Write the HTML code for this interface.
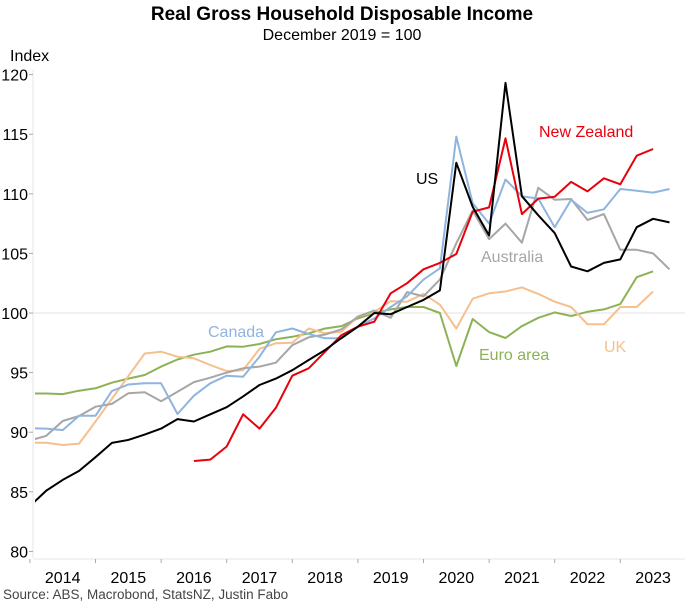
<!DOCTYPE html>
<html><head><meta charset="utf-8"><style>
body{margin:0;background:#fff;}
svg{display:block;font-family:"Liberation Sans",Arial,sans-serif;}
</style></head><body>
<svg id="chart" width="685" height="603" viewBox="0 0 685 603">
<text x="342" y="20" text-anchor="middle" font-size="19" font-weight="bold">Real Gross Household Disposable Income</text>
<text x="342" y="40" text-anchor="middle" font-size="16">December 2019 = 100</text>
<text x="10" y="61" font-size="16">Index</text>
<g id="axes"></g>
<g id="series"></g>
<text x="539" y="137" font-size="16" fill="#e8000b">New Zealand</text>
<text x="416" y="184" font-size="16" fill="#000">US</text>
<text x="481" y="262" font-size="16" fill="#a6a6a6">Australia</text>
<text x="208" y="337" font-size="16" fill="#8fb4e0">Canada</text>
<text x="479" y="360" font-size="16" fill="#8db255">Euro area</text>
<text x="604" y="352" font-size="16" fill="#f5c08e">UK</text>
<text x="3" y="599" font-size="13.5" fill="#444">Source: ABS, Macrobond, StatsNZ, Justin Fabo</text>
</svg>
<script>
// quarters 2013Q4 .. 2023Q3
const yearLabels = ["2014","2015","2016","2017","2018","2019","2020","2021","2022","2023"];
const yTicks = [80,85,90,95,100,105,110,115,120];
const us = [83.8,85.1,86.0,86.75,87.9,89.1,89.35,89.8,90.3,91.1,90.9,91.5,92.1,93.0,93.96,94.5,95.2,96.06,96.9,97.9,98.85,100.0,99.9,100.5,101.1,101.9,112.6,108.9,106.5,119.3,109.8,108.2,106.7,103.9,103.5,104.2,104.5,107.2,107.9,107.6];
const euro = [93.25,93.25,93.2,93.48,93.68,94.15,94.5,94.8,95.5,96.1,96.5,96.75,97.2,97.17,97.4,97.8,98.0,98.3,98.7,98.9,99.55,100.0,100.3,100.5,100.5,100.0,95.55,99.5,98.4,97.9,98.9,99.6,100.05,99.75,100.1,100.3,100.75,103.0,103.5,null];
const uk = [89.12,89.12,88.93,89.04,90.9,92.8,94.7,96.6,96.75,96.33,96.2,95.64,95.13,95.2,97.0,97.46,97.5,98.7,98.3,98.43,99.7,100.1,101.0,100.95,101.6,100.7,98.7,101.2,101.65,101.8,102.15,101.6,100.95,100.5,99.05,99.05,100.5,100.5,101.8,null];
const canada = [90.33,90.3,90.18,91.38,91.38,93.46,94.0,94.1,94.1,91.53,93.06,94.1,94.74,94.66,96.33,98.38,98.7,98.24,97.88,97.88,98.85,99.55,100.5,101.4,102.8,103.75,114.8,109.2,107.5,111.2,109.8,109.6,107.2,109.5,108.4,108.7,110.4,110.26,110.1,110.4];
const australia = [89.3,89.7,90.94,91.36,92.14,92.37,93.26,93.35,92.6,93.4,94.2,94.57,95.0,95.36,95.5,95.83,97.3,97.96,98.2,98.63,99.7,100.2,99.6,101.75,101.4,102.8,105.85,108.6,106.2,107.5,105.9,110.5,109.5,109.56,107.8,108.3,105.3,105.3,105.0,103.67];
const nz = [null,null,null,null,null,null,null,null,null,null,87.58,87.7,88.8,91.5,90.3,92.05,94.74,95.36,96.75,98.15,98.85,99.27,101.65,102.5,103.67,104.2,104.95,108.5,108.86,114.65,108.3,109.6,109.76,111.0,110.2,111.3,110.8,113.2,113.76,null];

const NS="http://www.w3.org/2000/svg";
const svg=document.getElementById('chart');
const axes=document.getElementById('axes');
const ser=document.getElementById('series');
const X0=33, X1=685, Ytop=75, Ybot=553;
function xq(i){return 62.7+16.4*(i-2);}
function yv(v){return 313-(v-100)*11.92;}
function mk(tag,attrs,parent){const e=document.createElementNS(NS,tag);for(const k in attrs)e.setAttribute(k,attrs[k]);parent.appendChild(e);return e;}

// clip
const defs=mk('defs',{},svg);
const cp=mk('clipPath',{id:'plotclip'},defs);
mk('rect',{x:35,y:60,width:650,height:500},cp);

mk('line',{x1:X0,y1:Ytop-5,x2:X0,y2:Ybot+5,stroke:'#e6e6e6','stroke-width':1},axes);
mk('line',{x1:X0,y1:Ybot+6,x2:X1,y2:Ybot+6,stroke:'#e6e6e6','stroke-width':1},axes);
yTicks.forEach(v=>{
  const y=yv(v);
  const t=mk('line',{x1:X0-4,y1:y,x2:X0,y2:y,stroke:'#aaa'},axes);
  
  
  if(v===100){
    const g=mk('line',{x1:X0,y1:y,x2:X1,y2:y,stroke:'#e3e3e3','stroke-width':1},axes);
    
    
  }
  const tx=mk('text',{x:X0-5,y:y+6,'text-anchor':'end','font-size':16},axes);
  tx.textContent=v;
  
  
});
yearLabels.forEach((lab,j)=>{
  const xc=xq(2+4*j);
  const tk=mk('line',{x1:xc-32.8,y1:Ybot+6,x2:xc-32.8,y2:Ybot+10,stroke:'#aaa'},axes);
  
  
  const tx=mk('text',{x:xc,y:583,'text-anchor':'middle','font-size':16},axes);
  tx.textContent=lab;
  
  
});

function drawSeries(arr,color,name){
  let d='',pen=false;
  arr.forEach((v,i)=>{
    if(v===null){pen=false;return;}
    d+=(pen?'L':'M')+xq(i).toFixed(1)+' '+yv(v).toFixed(1)+' ';pen=true;
  });
  const p=mk('path',{d:d,fill:'none',stroke:color,'stroke-width':2,'stroke-linejoin':'round','clip-path':'url(#plotclip)'},ser);
  
  
}
drawSeries(euro,'#8db255','line-euro-area');
drawSeries(uk,'#f5c08e','line-uk');
drawSeries(australia,'#a6a6a6','line-australia');
drawSeries(canada,'#8fb4e0','line-canada');
drawSeries(nz,'#e8000b','line-new-zealand');
drawSeries(us,'#000000','line-us');
</script>
</body></html>
